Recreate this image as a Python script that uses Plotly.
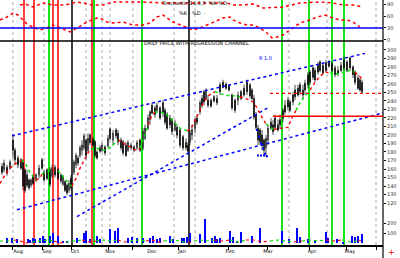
import plotly.graph_objects as go

# ---------------- data ----------------
candle_day = [1, 2, 3.5, 5, 6.5, 7.5, 9, 10.5, 11.5, 12.5,
              13.5, 14.5, 15.5, 16.5, 18, 19.5, 21, 22, 23.5, 25,
              26, 27.5, 29, 30.5, 31.5, 32.5, 33.5, 34.5, 35.5, 37,
              38, 39, 40, 41, 42, 43, 44, 45, 46.5, 47.5,
              48.5, 50, 51, 52.5, 54, 55, 56.5, 58, 59, 60.5,
              61.5, 63, 64, 65.5, 67, 68.5, 70, 71.5, 72.5, 74,
              75, 76, 77.5, 78.5, 80, 81.5, 82.5, 83.5, 85, 86,
              87.5, 88.5, 90, 91.5, 93, 94, 95, 96, 97.5, 98.5,
              100, 101, 102, 103, 104, 105.5, 107, 108.5, 110, 111.5,
              113, 114.5, 116, 117.5, 119, 120.5, 122, 123.5, 125, 126,
              127, 128, 129, 130, 131, 132, 133, 134, 135.5, 136.5,
              137.5, 139, 140, 141.5, 142.5, 144, 145, 146.5, 147.5, 149,
              150, 151.5, 152.5, 154, 155, 156.5, 157.5, 159, 160, 161.5,
              163, 164.5, 166, 167.5, 169, 170.5, 172, 173.5, 175, 176.5,
              177.5, 179, 180, 181]
candle_open = [163, 159, 162, 161, 194, 182, 173, 171, 168, 159,
               153, 147, 141, 151, 147, 153, 171, 156, 159, 159,
               152, 162, 159, 153, 142, 145, 141, 135, 149, 156,
               165, 173, 176, 182, 185, 194, 182, 200, 195, 192,
               180, 185, 182, 186, 187, 207, 194, 206, 202, 194,
               192, 188, 182, 188, 186, 185, 194, 185, 196, 208,
               218, 235, 232, 229, 232, 238, 229, 224, 220, 218,
               206, 209, 206, 198, 191, 188, 192, 200, 208, 220,
               227, 243, 251, 243, 241, 241, 245, 243, 259, 262,
               260, 258, 247, 241, 241, 251, 255, 262, 259, 253,
               243, 224, 208, 206, 200, 194, 185, 194, 215, 212,
               220, 212, 218, 229, 235, 241, 239, 247, 253, 255,
               259, 253, 261, 271, 274, 279, 276, 282, 286, 282,
               285, 286, 284, 279, 276, 282, 288, 286, 291, 280,
               274, 267, 265, 262]
candle_high = [167, 171, 165, 171, 201, 185, 176, 173, 171, 161,
               159, 149, 149, 153, 155, 165, 173, 159, 161, 162,
               165, 165, 161, 155, 153, 147, 143, 147, 153, 171,
               179, 176, 188, 194, 202, 196, 202, 202, 197, 194,
               182, 188, 191, 188, 200, 209, 206, 208, 206, 197,
               194, 192, 194, 191, 188, 194, 196, 208, 212, 224,
               229, 238, 235, 238, 234, 241, 232, 227, 224, 220,
               218, 212, 208, 200, 196, 192, 206, 212, 220, 224,
               241, 247, 253, 255, 247, 243, 247, 247, 262, 265,
               262, 260, 249, 243, 251, 253, 259, 265, 261, 255,
               247, 227, 212, 208, 206, 196, 200, 212, 220, 218,
               224, 218, 224, 232, 241, 245, 241, 251, 259, 259,
               262, 259, 265, 274, 276, 282, 279, 286, 288, 285,
               288, 288, 286, 282, 281, 286, 292, 288, 292, 282,
               276, 271, 267, 265]
candle_low = [153, 156, 152, 159, 173, 165, 161, 159, 135, 132,
              138, 135, 138, 141, 145, 149, 159, 145, 147, 139,
              149, 150, 147, 143, 140, 133, 129, 132, 135, 153,
              161, 164, 173, 176, 182, 171, 180, 188, 186, 173,
              171, 179, 180, 176, 185, 194, 188, 196, 188, 182,
              176, 174, 180, 182, 180, 182, 180, 182, 194, 206,
              212, 224, 220, 227, 218, 221, 212, 206, 208, 200,
              204, 196, 185, 182, 182, 179, 188, 194, 202, 212,
              224, 232, 235, 241, 232, 232, 238, 235, 247, 255,
              253, 251, 229, 226, 235, 241, 245, 247, 243, 241,
              218, 206, 188, 188, 182, 176, 174, 188, 206, 200,
              206, 204, 208, 215, 224, 229, 227, 235, 241, 245,
              247, 243, 247, 255, 259, 265, 262, 271, 274, 271,
              274, 279, 274, 268, 269, 274, 276, 274, 276, 267,
              259, 253, 251, 249]
candle_close = [156, 167, 155, 168, 182, 171, 165, 161, 140, 135,
                141, 138, 147, 143, 153, 161, 161, 147, 149, 142,
                161, 153, 149, 146, 151, 135, 132, 143, 138, 168,
                176, 167, 185, 188, 199, 176, 196, 191, 188, 176,
                173, 181, 188, 179, 196, 196, 202, 199, 192, 185,
                179, 176, 191, 185, 182, 191, 182, 204, 208, 220,
                227, 226, 224, 235, 220, 227, 215, 208, 212, 204,
                214, 200, 188, 185, 185, 181, 202, 206, 218, 215,
                238, 235, 239, 253, 235, 234, 240, 238, 251, 256,
                255, 253, 232, 229, 247, 243, 247, 251, 246, 243,
                221, 209, 194, 192, 188, 182, 196, 208, 208, 204,
                209, 206, 212, 220, 227, 233, 229, 239, 245, 247,
                251, 247, 253, 259, 262, 268, 265, 274, 276, 273,
                276, 281, 276, 271, 272, 276, 279, 276, 279, 271,
                262, 255, 253, 251]

# trailing stop / trend line (value, trend state)
trend_day = [0, 2.5, 5, 7.5, 10, 11, 13, 15, 17, 18, 20, 21, 23, 25, 26, 28, 29, 31, 33, 35,
             36, 38, 40, 42, 44, 45.5, 47.5, 50, 52.5, 55, 57.5, 59, 61, 63, 65, 67, 69, 70, 72.5, 74,
             76, 77.5, 80, 82.5, 85, 87.5, 90, 92.5, 93.5, 95, 96.5, 98, 100, 102, 104, 106, 107.5, 110,
             112.5, 115, 117.5, 120, 122.5, 125, 127, 129, 131, 133, 135, 137, 139, 141, 144, 146, 148,
             150, 152.5, 155, 157.5, 160, 162.5, 165, 167.5, 170, 172.5, 175, 177.5, 180, 181.5]
trend_val = [143, 153, 161, 166, 169, 171, 165, 156, 149, 147, 149, 154, 156, 158, 159, 159, 158, 153, 147, 141,
             140, 149, 161, 171, 179, 183, 185, 183, 182, 185, 191, 194, 192, 188, 186, 183, 182, 185, 200, 212,
             223, 227, 227, 226, 220, 214, 208, 206, 205, 206, 212, 220, 229, 239, 246, 249, 251, 249,
             247, 246, 246, 245, 243, 241, 238, 229, 221, 213, 209, 206, 208, 208, 209, 220, 229,
             238, 246, 253, 262, 269, 274, 273, 272, 272, 274, 276, 274, 269, 265]
trend_state = ["dn", "dn", "dn", "dn", "dn", "up", "up", "up", "up", "dn", "dn", "up", "up", "up", "dn", "dn", "up", "up", "up", "up",
               "dn", "dn", "dn", "dn", "dn", "up", "up", "up", "up", "up", "up", "dn", "dn", "dn", "dn", "dn", "dn", "up", "up", "dn",
               "dn", "up", "up", "up", "up", "up", "up", "up", "dn", "dn", "dn", "dn", "dn", "dn", "dn", "dn", "up", "up",
               "up", "up", "up", "dn", "dn", "dn", "dn", "dn", "dn", "up", "up", "dn", "dn", "dn", "dn", "dn", "up",
               "up", "up", "dn", "dn", "dn", "dn", "up", "up", "up", "up", "up", "dn", "dn", "dn"]

# oscillator (upper panel)
osc1_day = [10, 12.5, 16.5, 19, 21.5, 26.5, 32.5, 38.5, 46.5, 51.5, 56.5, 61.5, 71.5, 81.5, 90, 100,
            113.5, 116.5, 121.5, 126.5, 131.5, 141.5, 150, 160, 166.5, 171.5, 176.5, 181.5]
osc1_val = [87.5, 90, 82.5, 87.5, 92.5, 87.5, 87.5, 95, 87.5, 87.5, 95, 95, 95, 92.5, 92.5, 92.5,
            92.5, 87.5, 87.5, 90, 80, 82.5, 92.5, 95, 92.5, 87.5, 87.5, 82.5]
osc2_day = [0, 3.5, 6.5, 9, 11.5, 14, 16.5, 20, 23.5, 26.5, 29, 32.5, 35, 38.5, 43.5, 48.5, 50, 53.5,
            56.5, 61.5, 66.5, 71.5, 75, 78.5, 81.5, 86.5, 90, 93.5, 96.5, 100, 103.5, 106.5, 111.5,
            115, 116.5, 120, 123.5, 126.5, 130, 133.5, 136, 138.5, 141.5, 145, 148.5, 151.5, 155,
            158.5, 162.5, 166.5, 170, 173.5, 176.5, 180]
osc2_val = [50, 57.5, 67.5, 62.5, 50, 37.5, 32.5, 25, 30, 37.5, 32.5, 25, 20, 30, 45, 55, 55, 45,
            42.5, 45, 37.5, 37.5, 42.5, 57.5, 62.5, 45, 37.5, 30, 25, 30, 37.5, 45, 55,
            57.5, 50, 42.5, 37.5, 37.5, 30, 17.5, 5, 7.5, 12.5, 25, 37.5, 45, 50,
            57.5, 62.5, 55, 50, 50, 45, 32.5]
osc_level = 30

# volume
vol_day = [3.5, 6, 8.5, 14, 15, 16.5, 17.5, 20, 21.5, 22.5,
           25, 26.5, 29, 31.5, 33.5, 38.5, 42, 43, 45, 48.5,
           50, 55, 57.5, 59, 64, 66, 68.5, 71.5, 75, 76.5,
           78.5, 80, 85, 86.5, 91, 92, 93.5, 95, 100, 102.5,
           106, 107.5, 108.5, 110, 115, 116.5, 118.5, 120.5, 126, 130,
           141, 144.5, 148.5, 150, 154, 157.5, 163, 164, 168.5, 171.5,
           176, 177.5, 179, 181]
vol_val = [50, 50, 40, 40, 30, 50, 40, 50, 70, 40,
           70, 100, 70, 20, 20, 50, 100, 120, 40, 70,
           40, 140, 120, 150, 50, 60, 50, 50, 50, 70,
           40, 50, 70, 40, 50, 50, 60, 100, 90, 240,
           50, 70, 40, 50, 120, 60, 20, 110, 70, 150,
           120, 40, 150, 60, 40, 30, 110, 50, 40, 10,
           70, 60, 70, 90]
vma_day = [0, 4, 7, 10, 13, 16, 20, 24, 27, 30, 33, 37, 41, 45, 48, 52, 55, 59, 62, 65,
           69, 73, 76, 79, 82, 86, 90, 94, 97, 100, 104, 107, 111, 115, 119, 123, 127, 131,
           135, 139, 143, 147, 151, 155, 159, 163, 167, 171, 175, 179, 182]
vma_val = [20, 20, 30, 20, 0, 10, 20, 30, 20, 0, 10, 20, 30, 10, 20, 30, 20, 30, 10, 20,
           30, 20, 30, 10, 20, 30, 20, 0, 20, 30, 20, 30, 20, 30, 10, 30, 30, 10,
           20, 30, 20, 10, 20, 30, 20, 30, 20, 30, 10, 20, 30]
vma_state = ["up", "up", "dn", "dn", "dn", "up", "up", "up", "dn", "dn", "up", "up", "dn", "dn", "up", "up", "up", "dn", "dn", "up",
             "up", "dn", "dn", "dn", "up", "up", "up", "dn", "up", "up", "up", "dn", "dn", "up", "up", "dn", "dn", "dn",
             "up", "up", "up", "dn", "up", "up", "up", "dn", "dn", "up", "up", "dn", "dn"]

# channel lines (start/end)
chan_upper_day, chan_upper_val = [6, 182.5], [199, 296]
chan_lower_day, chan_lower_val = [8.5, 191.5], [112, 226]
chan_steep_day, chan_steep_val = [38.5, 134], [104, 232]
sig_day = [128.5, 129.5, 130.5, 131.5, 132.5, 129, 130.5, 132, 133.5]
sig_val = [206, 198, 190, 184, 178, 176, 176, 176, 175]

# levels
support_level, support_from = 222, 136.5
resist_level, resist_from = 249, 135

# vertical event lines
red_events = [12, 17, 26.5, 29, 46]
green_events = [24.5, 47, 71, 141, 154.5, 166, 172]
black_events = [36, 94.5]
grid_days = [6.5, 22, 43, 51, 55, 66.5, 87, 97.5, 144.5, 163.5, 188]

month_pos = [9, 23.5, 37.5, 55, 76, 91, 115, 134, 156, 175]
month_txt = ["Aug", "Sep", "Oct", "Nov", "Dec", "Jan", "Feb", "Mar", "Apr", "May"]
month_ticks = [6, 21, 35.5, 54, 66, 89, 114, 133.5, 154.5, 173, 188]

price_ticks = list(range(120, 301, 10))

RED, GREEN, BLUE = "#ff0000", "#00e000", "#0000ff"
FONT = "DejaVu Sans"

fig = go.Figure()

# volume
fig.add_trace(go.Bar(x=vol_day, y=vol_val, width=0.55, marker=dict(color=BLUE, line=dict(width=0)),
                     yaxis="y3"))


def add_state_line(xs, ys, states, yaxis, width=1.5):
    start = 0
    n = len(xs)
    for i in range(1, n + 1):
        if i == n or states[i] != states[start]:
            end = min(i + 1, n)
            fig.add_trace(go.Scatter(
                x=xs[start:end], y=ys[start:end], mode="lines", yaxis=yaxis,
                line=dict(color=GREEN if states[start] == "up" else RED, width=width, dash="dot")))
            start = i


add_state_line(vma_day, vma_val, vma_state, "y3", 1.2)

# channels
for cx, cy in [(chan_upper_day, chan_upper_val), (chan_lower_day, chan_lower_val),
               (chan_steep_day, chan_steep_val)]:
    fig.add_trace(go.Scatter(x=cx, y=cy, mode="lines", line=dict(color=BLUE, width=1.5, dash="dot")))

fig.add_trace(go.Scatter(x=sig_day, y=sig_val, mode="markers",
                         marker=dict(color=BLUE, size=2, symbol="square")))

# candles
fig.add_trace(go.Candlestick(
    x=candle_day, open=candle_open, high=candle_high, low=candle_low, close=candle_close,
    increasing=dict(line=dict(color="black", width=0.7), fillcolor="white"),
    decreasing=dict(line=dict(color="black", width=0.7), fillcolor="black"),
    whiskerwidth=0))

add_state_line(trend_day, trend_val, trend_state, "y", 1.4)

# oscillator
fig.add_trace(go.Scatter(x=osc1_day, y=osc1_val, mode="lines", yaxis="y2",
                         line=dict(color=RED, width=1.5, dash="dot")))
fig.add_trace(go.Scatter(x=osc2_day, y=osc2_val, mode="lines", yaxis="y2",
                         line=dict(color=RED, width=1.5, dash="dot")))

shapes = []
for d in grid_days:
    shapes.append(dict(type="line", xref="x", yref="paper", x0=d, x1=d, y0=0, y1=1,
                       line=dict(color="#a8a8a8", width=1, dash="dot"), layer="below"))
for d in red_events:
    shapes.append(dict(type="line", xref="x", yref="paper", x0=d, x1=d, y0=0, y1=1,
                       line=dict(color=RED, width=1.5), layer="below"))
for d in green_events:
    shapes.append(dict(type="line", xref="x", yref="paper", x0=d, x1=d, y0=0, y1=1,
                       line=dict(color=GREEN, width=1.8), layer="below"))
for d in black_events:
    shapes.append(dict(type="line", xref="x", yref="paper", x0=d, x1=d, y0=0, y1=1,
                       line=dict(color="black", width=1.5), layer="below"))
# oscillator reference level
shapes.append(dict(type="line", xref="paper", yref="y2", x0=0, x1=1, y0=osc_level, y1=osc_level,
                   line=dict(color=BLUE, width=1.6)))
# panel separator
shapes.append(dict(type="line", xref="paper", yref="paper", x0=0, x1=1, y0=0.8327, y1=0.8327,
                   line=dict(color="black", width=1.6)))
# right axis line
shapes.append(dict(type="line", xref="paper", yref="paper", x0=1, x1=1, y0=-0.053, y1=1,
                   line=dict(color="black", width=1.2)))
# horizontal levels
shapes.append(dict(type="line", xref="x", yref="y", x0=support_from, x1=191.5,
                   y0=support_level, y1=support_level, line=dict(color=RED, width=1.6)))
shapes.append(dict(type="line", xref="x", yref="y", x0=resist_from, x1=191.5,
                   y0=resist_level, y1=resist_level, line=dict(color=RED, width=1.3, dash="dot")))

small = dict(family=FONT, size=5, color="black")
annotations = [
    dict(text="Stochastic 14,3,3  %K %D", x=0.418, y=0.988, xref="paper", yref="paper",
         xanchor="left", yanchor="middle", showarrow=False, font=small),
    dict(text="%K - %D  ·", x=0.462, y=0.947, xref="paper", yref="paper",
         xanchor="left", yanchor="middle", showarrow=False, font=small),
    dict(text="DAILY PRICE WITH REGRESSION CHANNEL", x=0.371, y=0.825, xref="paper", yref="paper",
         xanchor="left", yanchor="middle", showarrow=False, font=small),
    dict(text="R 1.0", x=0.671, y=0.763, xref="paper", yref="paper",
         xanchor="left", yanchor="middle", showarrow=False, font=dict(family=FONT, size=5, color=BLUE)),
    dict(text="+", x=1.022, y=-0.03, xref="paper", yref="paper", xanchor="center", yanchor="middle",
         showarrow=False, font=dict(family=FONT, size=8, color=RED)),
]

fig.update_layout(
    width=400, height=258, autosize=False,
    margin=dict(l=0, r=17, t=0, b=13, pad=0),
    paper_bgcolor="white", plot_bgcolor="white",
    showlegend=False, bargap=0,
    font=dict(family=FONT, size=5, color="#222"),
    shapes=shapes, annotations=annotations,
    xaxis=dict(range=[0, 191.5], domain=[0, 1], anchor="y", showgrid=False, zeroline=False,
               rangeslider=dict(visible=False), showline=True, linecolor="black", linewidth=1.6,
               tickmode="array", tickvals=month_pos, ticktext=month_txt, ticks="",
               tickfont=dict(family=FONT, size=5, color="black"),
               minor=dict(tickmode="array", tickvals=month_ticks, ticks="outside", ticklen=3,
                          tickcolor="black", tickwidth=1, showgrid=False)),
    yaxis=dict(domain=[0, 0.8286], range=[70.6, 309.4], side="right", anchor="x",
               showgrid=False, zeroline=False, tickmode="array", tickvals=price_ticks,
               ticks="outside", ticklen=2, tickcolor="black",
               tickfont=dict(family=FONT, size=5, color="#333")),
    yaxis2=dict(domain=[0.8327, 1], range=[-2.5, 100], side="right", anchor="x",
                showgrid=False, zeroline=False, tickmode="array", tickvals=[0, 30, 60, 90],
                ticks="outside", ticklen=2, tickcolor="black",
                tickfont=dict(family=FONT, size=5, color="#333")),
    yaxis3=dict(overlaying="y", range=[-20, 2010], side="right", anchor="x",
                showgrid=False, zeroline=False, tickmode="array", tickvals=[100, 200],
                ticks="outside", ticklen=2, tickcolor="black",
                tickfont=dict(family=FONT, size=5, color="#333")),
)

fig.write_html("out.html")
